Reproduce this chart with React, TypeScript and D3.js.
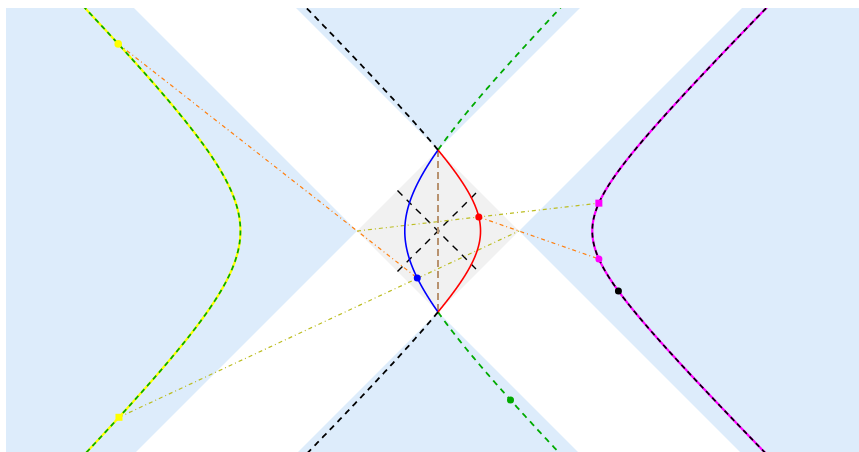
import React from 'react';
import * as d3 from 'd3';

const W = 859;
const H = 452;

// Coordinate extents (unit = half-diagonal of the causal diamond)
const xDomain = [-5.333, 5.333];
const tDomain = [-2.753, 2.753];

// Each accelerated observer is fixed by its x at t = 0 inside the diamond
const observerNames = ['blue', 'red'];
const observerInnerX = [-0.41, 0.525];
const innerColors = ['#0000ff', '#ff0000'];
const continuationColors = ['#00aa00', '#000000'];
const outerColors = ['#ffff00', '#ff00ff'];

// Marked events (t values) on the worldlines
const blueDotT = -0.58;
const redDotT = 0.173;
const yellowDotT = 2.31;
const yellowSquareT = -2.3;
const magentaSquareT = 0.344;
const magentaDotT = -0.345;
const blackDotT = -0.741;
const greenDotT = -2.086;

// Half-length of the diagonal light-cone cross at the centre
const crossHalf = 0.5;

const hyper = (a: number) => {
  const s = Math.sign(a);
  const A = Math.abs(a);
  const c = (s * (1 / A + A)) / 2;
  const R = (1 / A - A) / 2;
  return {
    inner: (t: number) => c - s * Math.sqrt(R * R + t * t),
    outer: (t: number) => c + s * Math.sqrt(R * R + t * t),
  };
};

export default function App() {
  const x = d3.scaleLinear().domain(xDomain).range([6, 870]);
  const y = d3.scaleLinear().domain([tDomain[1], tDomain[0]]).range([8, 454]);

  const line = d3
    .line<[number, number]>()
    .x((d) => x(d[0]))
    .y((d) => y(d[1]));

  const poly = (pts: [number, number][]) => line(pts) + 'Z';

  const tAll = d3.range(-3.3, 3.3001, 0.01);
  const tIn = d3.range(-1, 1.0001, 0.005);
  const tUp = d3.range(1, 3.3001, 0.01);
  const tDown = d3.range(-3.3, -0.9999, 0.01);

  const hyps = observerInnerX.map(hyper);
  const [blueH, redH] = hyps;

  const P = (f: (t: number) => number, t: number): [number, number] => [f(t), t];
  const blueDot = P(blueH.inner, blueDotT);
  const redDot = P(redH.inner, redDotT);
  const yellowDot = P(blueH.outer, yellowDotT);
  const yellowSquare = P(blueH.outer, yellowSquareT);
  const magentaSquare = P(redH.outer, magentaSquareT);
  const magentaDot = P(redH.outer, magentaDotT);
  const blackDot = P(redH.outer, blackDotT);
  const greenDot = P(blueH.inner, greenDotT);
  const leftV: [number, number] = [-1, 0];
  const rightV: [number, number] = [1, 0];

  const sq = (p: [number, number], size: number, fill: string) => (
    <rect x={x(p[0]) - size / 2} y={y(p[1]) - size / 2} width={size} height={size} fill={fill} />
  );
  const dot = (p: [number, number], r: number, fill: string) => (
    <circle cx={x(p[0])} cy={y(p[1])} r={r} fill={fill} />
  );

  const dashDot = '4,3,1,3';

  return (
    <svg
      width={W}
      height={H}
      style={{ position: 'absolute', left: 0, top: 0, background: '#fff' }}
    >
      <defs>
        <clipPath id="plot">
          <rect x={x(xDomain[0])} y={y(tDomain[1])} width={x(xDomain[1]) - x(xDomain[0])} height={y(tDomain[0]) - y(tDomain[1])} />
        </clipPath>
      </defs>
      <g clipPath="url(#plot)">
        <rect x={x(xDomain[0])} y={y(tDomain[1])} width={x(xDomain[1]) - x(xDomain[0])} height={y(tDomain[0]) - y(tDomain[1])} fill="#ddecfb" />
        <path d={poly([[-11, 10], [-9, 10], [11, -10], [9, -10]])} fill="#fff" />
        <path d={poly([[9, 10], [11, 10], [-9, -10], [-11, -10]])} fill="#fff" />
        <path d={poly([[0, 1], [1, 0], [0, -1], [-1, 0]])} fill="#f1f1f1" />

        {/* light-cone cross through the centre */}
        <path d={line([[-crossHalf, -crossHalf], [crossHalf, crossHalf]])!} stroke="#000" strokeWidth={1.4} strokeDasharray="7,6" fill="none" />
        <path d={line([[-crossHalf, crossHalf], [crossHalf, -crossHalf]])!} stroke="#000" strokeWidth={1.4} strokeDasharray="7,6" fill="none" />
        {/* inertial observer */}
        <path d={line([[0, 1], [0, -1]])!} stroke="#b8926f" strokeWidth={2} strokeDasharray="7,4" fill="none" />

        {/* rays through the diamond corners */}
        <path d={line([yellowDot, blueDot])!} stroke="#ff7f0e" strokeWidth={1.2} strokeDasharray={dashDot} fill="none" />
        <path d={line([redDot, magentaDot])!} stroke="#ff7f0e" strokeWidth={1.2} strokeDasharray={dashDot} fill="none" />
        <path d={line([yellowSquare, rightV])!} stroke="#bcbd22" strokeWidth={1.2} strokeDasharray={dashDot} fill="none" />
        <path d={line([leftV, magentaSquare])!} stroke="#bcbd22" strokeWidth={1.2} strokeDasharray={dashDot} fill="none" />

        {hyps.map((h, i) => (
          <g key={observerNames[i]}>
            <path d={line(tAll.map((t) => [h.outer(t), t] as [number, number]))!} stroke={outerColors[i]} strokeWidth={2.2} fill="none" />
            <path d={line(tAll.map((t) => [h.outer(t), t] as [number, number]))!} stroke={continuationColors[i]} strokeWidth={1.7} strokeDasharray="5,4" fill="none" />
            <path d={line(tUp.map((t) => [h.inner(t), t] as [number, number]))!} stroke={continuationColors[i]} strokeWidth={1.8} strokeDasharray="6,5" fill="none" />
            <path d={line(tDown.map((t) => [h.inner(t), t] as [number, number]).reverse())!} stroke={continuationColors[i]} strokeWidth={1.8} strokeDasharray="6,5" fill="none" />
            <path d={line(tIn.map((t) => [h.inner(t), t] as [number, number]))!} stroke={innerColors[i]} strokeWidth={1.6} fill="none" />
          </g>
        ))}

        {dot(blueDot, 3.5, '#0000ff')}
        {dot(redDot, 3.5, '#ff0000')}
        {dot(yellowDot, 3.8, '#ffff00')}
        {sq(yellowSquare, 7, '#ffff00')}
        {sq(magentaSquare, 7, '#ff00ff')}
        {dot(magentaDot, 3.5, '#ff00ff')}
        {dot(blackDot, 3.5, '#000000')}
        {dot(greenDot, 3.5, '#00aa00')}
      </g>
    </svg>
  );
}
